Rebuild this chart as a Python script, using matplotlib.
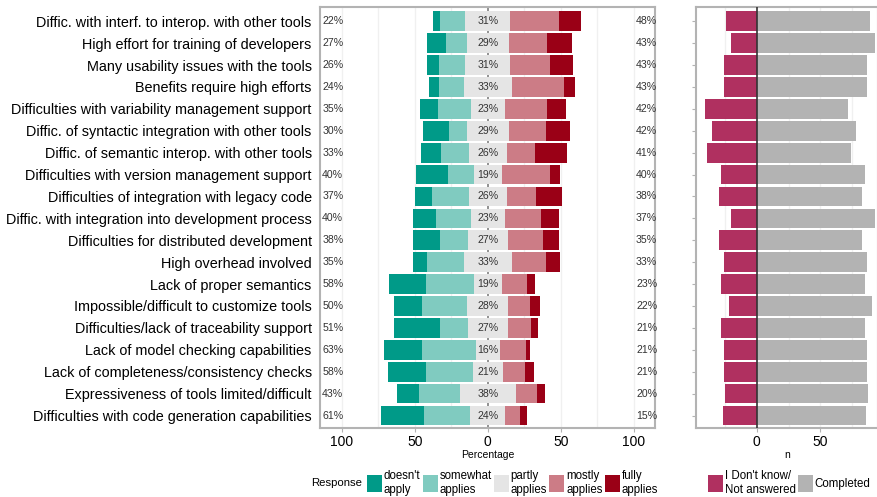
import matplotlib.pyplot as plt
from matplotlib.patches import Patch

plt.rcParams['font.family'] = ['Liberation Sans', 'DejaVu Sans']

items = [
    "Diffic. with interf. to interop. with other tools",
    "High effort for training of developers",
    "Many usability issues with the tools",
    "Benefits require high efforts",
    "Difficulties with variability management support",
    "Diffic. of syntactic integration with other tools",
    "Diffic. of semantic interop. with other tools",
    "Difficulties with version management support",
    "Difficulties of integration with legacy code",
    "Diffic. with integration into development process",
    "Difficulties for distributed development",
    "High overhead involved",
    "Lack of proper semantics",
    "Impossible/difficult to customize tools",
    "Difficulties/lack of traceability support",
    "Lack of model checking capabilities",
    "Lack of completeness/consistency checks",
    "Expressiveness of tools limited/difficult",
    "Difficulties with code generation capabilities",
]

# percentages per response level
doesnt_apply = [5, 13, 8, 7, 12, 18, 14, 22, 12, 16, 19, 10, 25, 19, 32, 26, 26, 15, 29]
somewhat = [17, 14, 18, 17, 23, 12, 19, 18, 25, 24, 19, 25, 33, 31, 19, 37, 32, 28, 32]
partly = [31, 29, 31, 33, 23, 29, 26, 19, 26, 23, 27, 33, 19, 28, 27, 16, 21, 38, 24]
mostly = [33, 26, 27, 36, 29, 25, 19, 33, 20, 25, 24, 23, 17, 15, 16, 18, 15, 15, 10]
fully = [15, 17, 16, 7, 13, 17, 22, 7, 18, 12, 11, 10, 6, 7, 5, 3, 6, 5, 5]

# answer counts
not_answered = [24, 20, 26, 26, 41, 35, 39, 28, 30, 20, 30, 26, 28, 22, 28, 26, 26, 25, 27]
completed = [89, 93, 87, 87, 72, 78, 74, 85, 83, 93, 83, 87, 85, 91, 85, 87, 87, 88, 86]

levels = ["doesn't\napply", "somewhat\napplies", "partly\napplies", "mostly\napplies", "fully\napplies"]
colors = ["#009a88", "#80cbc0", "#e5e5e5", "#cc7c86", "#9a0016"]
frame = "#b3b3b3"

n = len(items)
ys = [n - 1 - i for i in range(n)]

fig = plt.figure(figsize=(8.78, 4.97), dpi=100)
ax = fig.add_axes([320 / 878, 69 / 497, 335 / 878, 421 / 497])
ax2 = fig.add_axes([696 / 878, 69 / 497, 182 / 878, 421 / 497])

h = 0.9
for i in range(n):
    y = ys[i]
    half = partly[i] / 2
    ax.barh(y, -somewhat[i], left=-half, height=h, color=colors[1], zorder=3)
    ax.barh(y, -doesnt_apply[i], left=-half - somewhat[i], height=h, color=colors[0], zorder=3)
    ax.barh(y, partly[i], left=-half, height=h, color=colors[2], zorder=3)
    ax.barh(y, mostly[i], left=half, height=h, color=colors[3], zorder=3)
    ax.barh(y, fully[i], left=half + mostly[i], height=h, color=colors[4], zorder=3)
    low = doesnt_apply[i] + somewhat[i]
    high = mostly[i] + fully[i]
    ax.text(-113.5, y, f"{low}%", ha='left', va='center', fontsize=7.6, color="#333333", zorder=4)
    ax.text(0, y, f"{partly[i]}%", ha='center', va='center', fontsize=7.6, color="#333333", zorder=4)
    ax.text(101.5, y, f"{high}%", ha='left', va='center', fontsize=7.6, color="#333333", zorder=4)

ax.axvline(0, color="#7f7f7f", lw=1.2, zorder=1)
for gx in [-100, -75, -50, -25, 25, 50, 75, 100]:
    ax.axvline(gx, color="#f0f0f0", lw=1, zorder=0)
ax.set_xlim(-115, 114.5)
ax.set_ylim(-0.57, n - 1 + 0.65)
ax.set_xticks([-100, -50, 0, 50, 100])
ax.set_xticklabels(["100", "50", "0", "50", "100"], fontsize=10)
ax.set_yticks(ys)
ax.set_yticklabels(items, fontsize=10.4)
ax.tick_params(axis='y', length=0, pad=6)
ax.tick_params(axis='x', length=3, color=frame, pad=2)
ax.set_xlabel("Percentage", fontsize=7.5, labelpad=1)
for s in ax.spines.values():
    s.set_color(frame)
    s.set_linewidth(1.5)

# counts panel
ax2.barh(ys, [-v for v in not_answered], height=h, color="#b03060", zorder=3)
ax2.barh(ys, completed, height=h, color="#b3b3b3", zorder=3)
ax2.axvline(0, color="#333333", lw=1.2, zorder=4)
for gx in [-25, 25, 50, 75]:
    ax2.axvline(gx, color="#f0f0f0", lw=1, zorder=0)
ax2.set_xlim(-47.9, 95.5)
ax2.set_ylim(-0.57, n - 1 + 0.65)
ax2.set_xticks([0, 50])
ax2.set_xticklabels(["0", "50"], fontsize=10)
ax2.set_yticks(ys)
ax2.set_yticklabels([])
ax2.tick_params(axis='both', length=3, color=frame, pad=2)
ax2.set_xlabel("n", fontsize=7.5, labelpad=1)
for s in ax2.spines.values():
    s.set_color(frame)
    s.set_linewidth(1.5)

# legends
fig.text(311 / 878, 1 - 483 / 497, "Response", fontsize=8.2, va='center', ha='left')
handles = [Patch(facecolor=c, edgecolor='none') for c in colors]
fig.legend(handles, levels, ncol=5, loc='center left',
           bbox_to_anchor=(367 / 878, 1 - 483 / 497), frameon=False,
           fontsize=8.3, handlelength=1.3, handleheight=1.9,
           handletextpad=0.15, columnspacing=0.2, borderpad=0, borderaxespad=0)
handles2 = [Patch(facecolor="#b03060", edgecolor='none'), Patch(facecolor="#b3b3b3", edgecolor='none')]
fig.legend(handles2, ["I Don't know/\nNot answered", "Completed"], ncol=2, loc='center left',
           bbox_to_anchor=(708 / 878, 1 - 483 / 497), frameon=False,
           fontsize=8.3, handlelength=1.3, handleheight=1.9,
           handletextpad=0.15, columnspacing=0.2, borderpad=0, borderaxespad=0)

fig.savefig("out.png", dpi=100)
